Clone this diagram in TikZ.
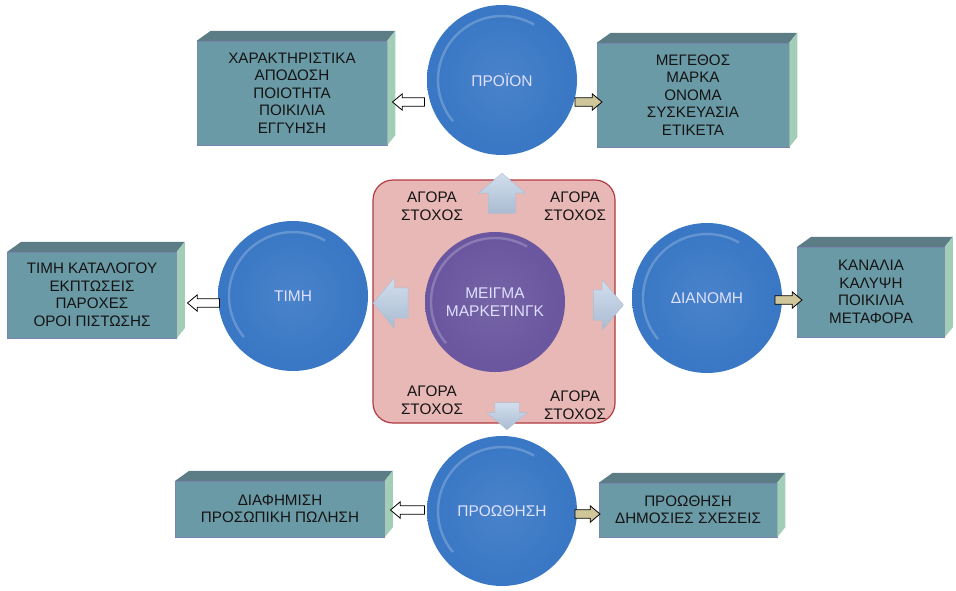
\documentclass[tikz,border=0pt]{standalone}
\usepackage{fontspec}
\setmainfont{Liberation Sans}
\usetikzlibrary{positioning,shapes.arrows}
\definecolor{boxfront}{HTML}{6A9AA6}
\definecolor{boxtop}{HTML}{5C7D86}
\definecolor{boxside}{HTML}{A2CDB7}
\definecolor{boxedge}{HTML}{7A84B0}
\definecolor{discA}{HTML}{3A78C5}
\definecolor{discB}{HTML}{5A93D4}
\definecolor{discC}{HTML}{2A60AC}
\definecolor{mixA}{HTML}{6A579F}
\definecolor{mixB}{HTML}{8270B4}
\definecolor{mixC}{HTML}{554287}
\definecolor{pinkbg}{HTML}{E8B8B6}
\definecolor{pinkedge}{HTML}{B23A40}
\definecolor{khaki}{HTML}{CFC79A}
\definecolor{paleblue}{HTML}{B9CCE4}
\pgfdeclareradialshading{bluedisc}{\pgfpoint{0bp}{0bp}}{color(0bp)=(discA!92!white); color(22bp)=(discA); color(43bp)=(discA); color(45.5bp)=(discB); color(47bp)=(discA); color(50bp)=(discC)}
\pgfdeclareradialshading{purpledisc}{\pgfpoint{0bp}{0bp}}{color(0bp)=(mixA!92!white); color(22bp)=(mixA); color(43bp)=(mixA); color(45.5bp)=(mixB); color(47bp)=(mixA); color(50bp)=(mixC)}

\begin{document}
\begin{tikzpicture}[x=1pt, y=-1pt,
    box/.style={rectangle, fill=boxfront, draw=boxedge, line width=.5, inner sep=0,
      align=center, text=black!92, font=\fontsize{15.2}{17.5}\selectfont},
    disc/.style={circle, minimum size=150, inner sep=0, shading=bluedisc,
      text=white!88!blue, font=\fontsize{15.5}{18.5}\selectfont, align=center,
      path picture={\draw[white, opacity=.22, line width=2.4]
        (path picture bounding box.center) ++(140:64) arc[start angle=140, end angle=300, radius=64];}},
    mixdisc/.style={disc, minimum size=140, shading=purpledisc},
    target/.style={align=center, text=black!92, font=\fontsize{15.3}{17.5}\selectfont},
    tinyarrow/.style={single arrow, draw=black, line width=.8, inner xsep=0, inner ysep=3.8,
      single arrow head extend=4, single arrow tip angle=80},
    bigarrow/.style={single arrow, draw=paleblue!80!gray, line width=.4, inner xsep=0, inner ysep=15,
      single arrow head extend=10, single arrow tip angle=100,
      top color=paleblue!65!white, bottom color=paleblue!92!black},
    bigarrowv/.style={bigarrow, inner xsep=13.5, inner ysep=0}
  ]
  \useasboundingbox (0,0) rectangle (956,590);

  % the six lists
  \node[box, minimum width=190, minimum height=104] (feat) at (292,93) {ΧΑΡΑΚΤΗΡΙΣΤΙΚΑ\\ΑΠΟΔΟΣΗ\\ΠΟΙΟΤΗΤΑ\\ΠΟΙΚΙΛΙΑ\\ΕΓΓΥΗΣΗ};
  \node[box, minimum width=192, minimum height=104] (brand) at (693,95) {ΜΕΓΕΘΟΣ\\ΜΑΡΚΑ\\ΟΝΟΜΑ\\ΣΥΣΚΕΥΑΣΙΑ\\ΕΤΙΚΕΤΑ};
  \node[box, minimum width=169, minimum height=86] (pricelist) at (92,295) {ΤΙΜΗ ΚΑΤΑΛΟΓΟΥ\\ΕΚΠΤΩΣΕΙΣ\\ΠΑΡΟΧΕΣ\\ΟΡΟΙ ΠΙΣΤΩΣΗΣ};
  \node[box, minimum width=147, minimum height=90] (chan) at (871,292) {ΚΑΝΑΛΙΑ\\ΚΑΛΥΨΗ\\ΠΟΙΚΙΛΙΑ\\ΜΕΤΑΦΟΡΑ};
  \node[box, minimum width=209, minimum height=56] (advert) at (280,509) {ΔΙΑΦΗΜΙΣΗ\\ΠΡΟΣΩΠΙΚΗ ΠΩΛΗΣΗ};
  \node[box, minimum width=178, minimum height=54] (pubrel) at (688,510) {ΠΡΟΩΘΗΣΗ\\ΔΗΜΟΣΙΕΣ ΣΧΕΣΕΙΣ};
  \foreach \bx in {feat,brand,pricelist,chan,advert,pubrel} {
    \fill[boxtop] (\bx.north west) -- ++(14,-10) -- ([shift={(8,-10)}]\bx.north east) -- (\bx.north east) -- cycle;
    \fill[boxside] (\bx.north east) -- ++(8,-10) -- ([shift={(8,-10)}]\bx.south east) -- (\bx.south east) -- cycle;
  }

  % centre panel
  \node[draw=pinkedge, fill=pinkbg, rounded corners=20, line width=1.2,
    minimum width=242, minimum height=243] (core) at (494,301.5) {};
  \node[mixdisc] (mix) at (495,302) {ΜΕΙΓΜΑ\\ΜΑΡΚΕΤΙΝΓΚ};
  \node[target] (tgtnw) at (432,206) {ΑΓΟΡΑ\\ΣΤΟΧΟΣ};
  \node[target] (tgtne) at (575,206) {ΑΓΟΡΑ\\ΣΤΟΧΟΣ};
  \node[target] (tgtsw) at (432,400) {ΑΓΟΡΑ\\ΣΤΟΧΟΣ};
  \node[target] (tgtse) at (575,405) {ΑΓΟΡΑ\\ΣΤΟΧΟΣ};
  \node[bigarrowv, minimum height=40, shape border rotate=90] (upA) at (502,199) {};
  \node[bigarrow, minimum height=35, shape border rotate=180] (leftA) at (397,303) {};
  \node[bigarrow, minimum height=30] (rightA) at (602,305) {};
  \node[bigarrowv, minimum height=27, shape border rotate=270, inner xsep=12, single arrow head extend=8] (downA) at (507,411) {};

  % the four Ps
  \node[disc] (prod) at (502,80) {ΠΡΟΪΟΝ};
  \node[disc] (price) at (293,296) {ΤΙΜΗ};
  \node[disc] (dist) at (707,298) {ΔΙΑΝΟΜΗ};
  \node[disc] (promo) at (502,511) {ΠΡΟΩΘΗΣΗ};

  \node[tinyarrow, fill=white, shape border rotate=180, minimum height=32] (prodL) at (411,102) {};
  \node[tinyarrow, fill=khaki, minimum height=27] (prodR) at (586,102) {};
  \node[tinyarrow, fill=white, shape border rotate=180, minimum height=32] (priceL) at (206,303) {};
  \node[tinyarrow, fill=khaki, minimum height=27] (distR) at (786,300) {};
  \node[tinyarrow, fill=white, shape border rotate=180, minimum height=34] (promoL) at (410,510) {};
  \node[tinyarrow, fill=khaki, minimum height=25] (promoR) at (585,514) {};
\end{tikzpicture}
\end{document}
